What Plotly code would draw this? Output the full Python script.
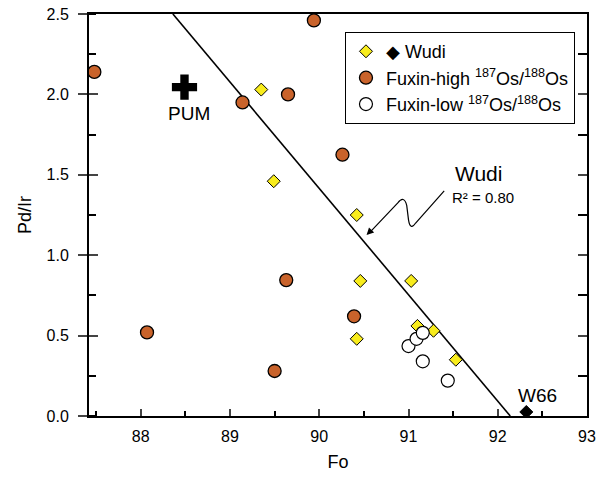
import plotly.graph_objects as go

# Data
wudi_fo = [89.35, 89.49, 90.42, 90.46, 91.03, 90.42, 91.10, 91.28, 91.53]
wudi_pdir = [2.03, 1.46, 1.25, 0.84, 0.84, 0.48, 0.56, 0.53, 0.35]
w66_fo = [92.32]
w66_pdir = [0.025]
fh_fo = [87.48, 89.14, 89.65, 89.94, 90.26, 88.07, 89.50, 89.63, 90.39]
fh_pdir = [2.14, 1.95, 2.00, 2.46, 1.625, 0.52, 0.28, 0.845, 0.62]
fl_fo = [91.00, 91.09, 91.16, 91.16, 91.44]
fl_pdir = [0.435, 0.48, 0.517, 0.34, 0.22]
pum_fo = [88.49]
pum_pdir = [2.045]
fit_fo = [88.36, 92.14]
fit_pdir = [2.5, 0.0]

FONT = "Liberation Sans, Arial, Helvetica, sans-serif"
ORANGE = "#C9632B"
YELLOW = "#F8EC1C"

fig = go.Figure()

fig.add_trace(go.Scatter(x=fit_fo, y=fit_pdir, mode="lines",
                         line=dict(color="black", width=1.6), showlegend=False,
                         hoverinfo="skip", cliponaxis=False))
fig.add_trace(go.Scatter(x=pum_fo, y=pum_pdir, mode="markers",
                         marker=dict(symbol="cross", size=21, color="black"),
                         showlegend=False))
fig.add_trace(go.Scatter(x=wudi_fo, y=wudi_pdir, mode="markers", name="◆ Wudi",
                         marker=dict(symbol="diamond", size=10, color=YELLOW,
                                     line=dict(color="black", width=1))))
fig.add_trace(go.Scatter(x=w66_fo, y=w66_pdir, mode="markers", showlegend=False,
                         marker=dict(symbol="diamond", size=10, color="black",
                                     line=dict(color="black", width=1))))
fig.add_trace(go.Scatter(x=fh_fo, y=fh_pdir, mode="markers",
                         name="Fuxin-high <sup>187</sup>Os/<sup>188</sup>Os",
                         cliponaxis=False,
                         marker=dict(symbol="circle", size=13, color=ORANGE,
                                     line=dict(color="black", width=1.3))))
fig.add_trace(go.Scatter(x=fl_fo, y=fl_pdir, mode="markers",
                         name="Fuxin-low <sup>187</sup>Os/<sup>188</sup>Os",
                         marker=dict(symbol="circle", size=13, color="white",
                                     line=dict(color="black", width=1.2))))
# dummy traces to register overlay axes
fig.add_trace(go.Scatter(x=[None], y=[None], yaxis="y2", showlegend=False, hoverinfo="skip"))
fig.add_trace(go.Scatter(x=[None], y=[None], yaxis="y3", showlegend=False, hoverinfo="skip"))

yr = [0, 2.5]
fig.update_layout(
    width=610, height=477,
    margin=dict(l=89, r=23, t=14, b=61, autoexpand=False),
    paper_bgcolor="white", plot_bgcolor="white",
    font=dict(family=FONT, size=16, color="black"),
    xaxis=dict(range=[87.42, 93], dtick=1, tick0=88, ticks="inside", ticklen=7,
               tickwidth=2, showline=True, linewidth=2, linecolor="black",
               mirror=True, showgrid=False, zeroline=False, automargin=False,
               ticklabelstandoff=5, ticklabeloverflow="allow",
               minor=dict(dtick=0.5, tick0=88, ticks="inside", ticklen=5, tickwidth=1.5,
                          tickcolor="black"),
               title=dict(text="Fo", font=dict(size=18), standoff=11)),
    yaxis=dict(range=yr, dtick=0.5, tickformat=".1f", ticks="outside", ticklen=9,
               tickwidth=2, showline=True, linewidth=2, linecolor="black",
               showgrid=False, zeroline=False, ticklabelstandoff=6, automargin=False,
               ticklabeloverflow="allow",
               minor=dict(dtick=0.25, ticks="inside", ticklen=7, tickwidth=1.5,
                          tickcolor="black"),
               title=dict(text="Pd/Ir", font=dict(size=18), standoff=10)),
    yaxis2=dict(range=yr, overlaying="y", side="left", dtick=0.5, ticks="inside",
                ticklen=9, tickwidth=2, showticklabels=False, showline=False,
                showgrid=False, zeroline=False, automargin=False),
    yaxis3=dict(range=yr, overlaying="y", side="right", dtick=0.5, ticks="inside",
                ticklen=9, tickwidth=2, showticklabels=False, showline=True,
                linewidth=2, linecolor="black", showgrid=False, zeroline=False,
                automargin=False,
                minor=dict(dtick=0.25, ticks="inside", ticklen=9, tickwidth=1.5,
                           tickcolor="black")),
    legend=dict(x=0.514, y=0.955, xanchor="left", yanchor="top",
                bgcolor="white", bordercolor="black", borderwidth=1,
                font=dict(size=18), itemwidth=30),
    showlegend=True,
)

# squiggly pointer
fig.add_shape(type="path", xref="x", yref="y",
              path="M 91.40,1.40 L 91.08,1.20 Q 91.02,1.15 91.00,1.22 L 90.98,1.31 "
                   "Q 90.95,1.375 90.88,1.325 L 90.58,1.15",
              line=dict(color="black", width=1.2))
fig.add_annotation(x=90.53, y=1.125, ax=90.60, ay=1.165, xref="x", yref="y",
                   axref="x", ayref="y", text="", showarrow=True, arrowhead=2,
                   arrowsize=1.2, arrowwidth=1.2, arrowcolor="black")

fig.add_annotation(x=91.78, y=1.51, text="Wudi", showarrow=False,
                   font=dict(size=21))
fig.add_annotation(x=91.84, y=1.36, text="R² = 0.80", showarrow=False,
                   font=dict(size=15))
fig.add_annotation(x=92.44, y=0.13, text="W66", showarrow=False,
                   font=dict(size=19))
fig.add_annotation(x=88.54, y=1.88, text="PUM", showarrow=False,
                   font=dict(size=19))

# remove the page's default 8px body margin so the figure fills the window
fig.write_html("out.html", config={"displayModeBar": False},
               post_script="document.body.style.margin='0';document.body.style.overflow='hidden';")
